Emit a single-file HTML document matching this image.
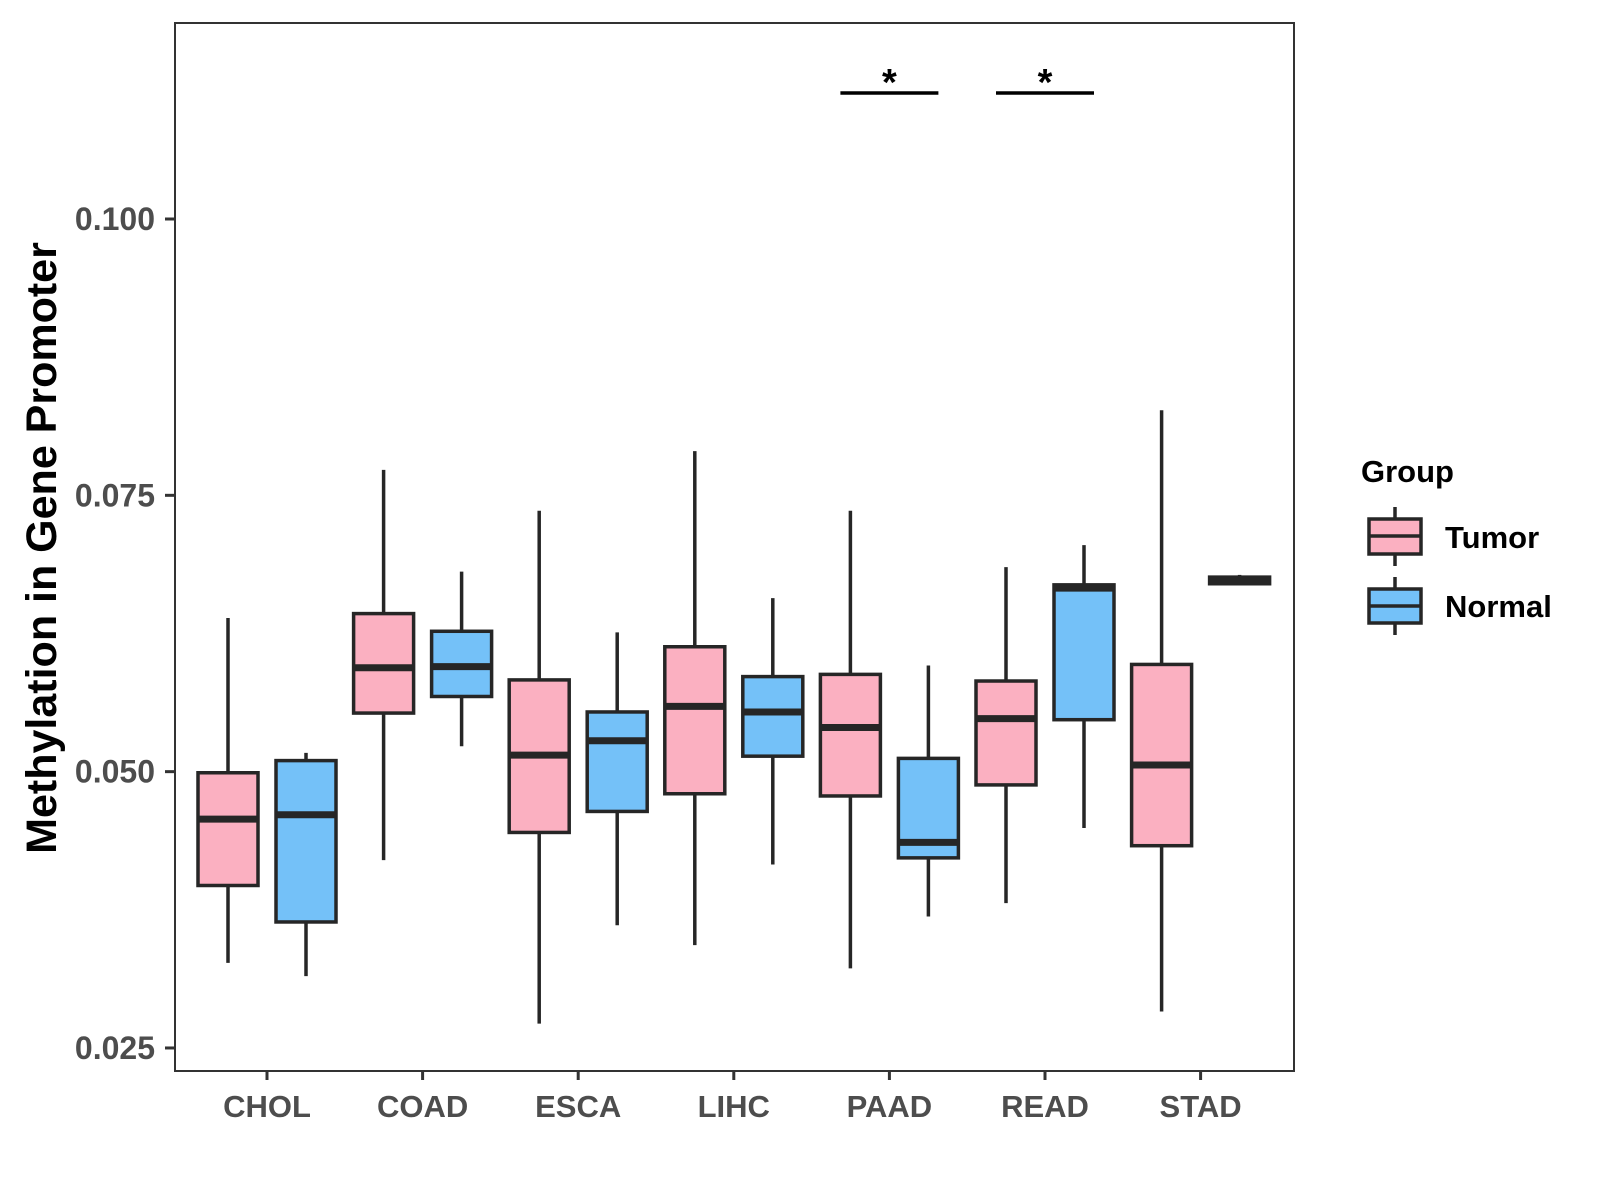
<!DOCTYPE html>
<html><head><meta charset="utf-8"><style>
body{margin:0;background:#fff}
svg{display:block}
text{font-family:"Liberation Sans",Arial,sans-serif;font-weight:bold}
</style></head><body>
<svg id="chart" width="1600" height="1200" viewBox="0 0 1600 1200">
<rect x="0" y="0" width="1600" height="1200" fill="#fff"/>
<g id="marks"></g>
<rect x="175" y="23" width="1119" height="1048" fill="none" stroke="#333" stroke-width="2"/>
<g id="axes"></g>
<text x="0" y="0" transform="translate(56,548) rotate(-90)" text-anchor="middle" font-size="43" fill="#000">Methylation in Gene Promoter</text>
<g>
<text x="1361" y="482" font-size="31" fill="#000">Group</text>
<g>
<line x1="1395" y1="507" x2="1395" y2="566" stroke="#262626" stroke-width="3.5"/>
<rect x="1369" y="519" width="52" height="35" fill="#FBB0C1" stroke="#262626" stroke-width="3.5"/>
<line x1="1369" y1="536" x2="1421" y2="536" stroke="#262626" stroke-width="3.5"/>
<text x="1445" y="548" font-size="31" fill="#000">Tumor</text>
</g>
<g>
<line x1="1395" y1="577" x2="1395" y2="635" stroke="#262626" stroke-width="3.5"/>
<rect x="1369" y="589" width="52" height="34" fill="#74C1F8" stroke="#262626" stroke-width="3.5"/>
<line x1="1369" y1="606" x2="1421" y2="606" stroke="#262626" stroke-width="3.5"/>
<text x="1445" y="617" font-size="31" fill="#000">Normal</text>
</g>
</g>
</svg>
<script>
const categories = ["CHOL","COAD","ESCA","LIHC","PAAD","READ","STAD"];
// [low, q1, median, q3, high]
const tumorStats = [
 [0.0327,0.0397,0.0457,0.0499,0.0639],
 [0.0420,0.0553,0.0594,0.0643,0.0773],
 [0.0272,0.0445,0.0515,0.0583,0.0736],
 [0.0343,0.0480,0.0559,0.0613,0.0790],
 [0.0322,0.0478,0.0540,0.0588,0.0736],
 [0.0381,0.0488,0.0548,0.0582,0.0685],
 [0.0283,0.0433,0.0506,0.0597,0.0827]
];
const normalStats = [
 [0.0315,0.0364,0.0461,0.0510,0.0517],
 [0.0523,0.0568,0.0595,0.0627,0.0681],
 [0.0361,0.0464,0.0528,0.0554,0.0626],
 [0.0416,0.0514,0.0554,0.0586,0.0657],
 [0.0369,0.0422,0.0436,0.0512,0.0596],
 [0.0449,0.0547,0.0666,0.0669,0.0705],
 [0.0670,0.0670,0.0673,0.0676,0.0678]
];
const yTicks = [0.025,0.050,0.075,0.100];
const yTickLabels = ["0.025","0.050","0.075","0.100"];
const significant = ["PAAD","READ"];
const sigLabels = ["*","*"];

const NS="http://www.w3.org/2000/svg";
function y(v){return 219+(0.1-v)*11053;}
function x(i){return 267+i*155.6;}
function mk(tag,attrs,parent){const e=document.createElementNS(NS,tag);for(const k in attrs)e.setAttribute(k,attrs[k]);parent.appendChild(e);return e;}
const marks=document.getElementById('marks');
const axes=document.getElementById('axes');
const stroke="#262626";
function drawBox(cx,s,fill,name){
  const g=mk('g',{},marks);
  
  
  mk('line',{x1:cx,x2:cx,y1:y(s[4]),y2:y(s[0]),stroke:stroke,'stroke-width':3.5},g);
  mk('rect',{x:cx-30,y:y(s[3]),width:60,height:Math.max(y(s[1])-y(s[3]),1),fill:fill,stroke:stroke,'stroke-width':3.5},g);
  mk('line',{x1:cx-30,x2:cx+30,y1:y(s[2]),y2:y(s[2]),stroke:stroke,'stroke-width':7},g);
}
categories.forEach((c,i)=>{
  drawBox(x(i)-39,tumorStats[i],"#FBB0C1","box-tumor-"+c.toLowerCase());
  drawBox(x(i)+39,normalStats[i],"#74C1F8","box-normal-"+c.toLowerCase());
  const t=mk('line',{x1:x(i),x2:x(i),y1:1071,y2:1080,stroke:"#333",'stroke-width':3},axes);
  
  
  const l=mk('text',{x:x(i),y:1117,'text-anchor':'middle','font-size':31,fill:'#4d4d4d'},axes);
  l.textContent=c;
  
  
});
yTicks.forEach((v,i)=>{
  const t=mk('line',{x1:165,x2:175,y1:y(v),y2:y(v),stroke:"#333",'stroke-width':3},axes);
  
  
  const l=mk('text',{x:155,y:y(v)+11,'text-anchor':'end','font-size':32,fill:'#4d4d4d'},axes);
  l.textContent=yTickLabels[i];
  
  
});
significant.forEach((c,k)=>{
  const i=categories.indexOf(c);
  const b=mk('line',{x1:x(i)-49,x2:x(i)+49,y1:93,y2:93,stroke:'#000','stroke-width':3.5},marks);
  
  
  const s=mk('text',{x:x(i),y:95,'text-anchor':'middle','font-size':38,fill:'#000'},marks);
  s.textContent=sigLabels[k];
  
  
});
</script>
</body></html>
